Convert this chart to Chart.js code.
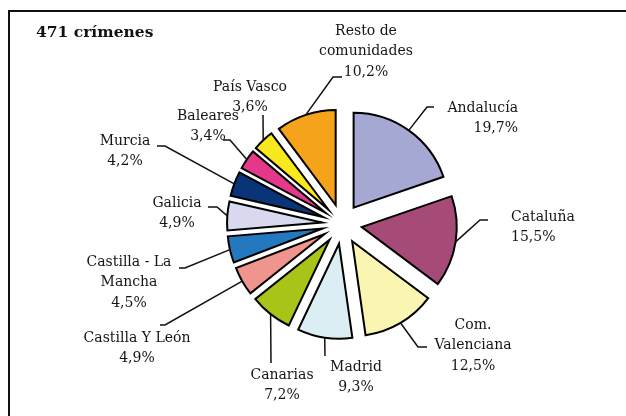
<!DOCTYPE html>
<html>
<head>
<meta charset="utf-8">
<script src="https://cdn.jsdelivr.net/npm/chart.js@4.4.1/dist/chart.umd.min.js"></script>
<style>
  html, body { margin: 0; padding: 0; background: #fff; }
  #wrap { width: 626px; height: 416px; position: relative; }
</style>
</head>
<body>
<div id="wrap"><canvas id="pie"></canvas></div>
<script>
// Data
let regions = ['Andalucía', 'Cataluña', 'Com. Valenciana', 'Madrid', 'Canarias', 'Castilla Y León',
  'Castilla - La Mancha', 'Galicia', 'Murcia', 'Baleares', 'País Vasco', 'Resto de comunidades'];
let shares = [19.7, 15.5, 12.5, 9.3, 7.2, 4.9, 4.5, 4.9, 4.2, 3.4, 3.6, 10.2];
let titleText = '471 crímenes';

// how the names wrap in the labels
let nameLines = [['Andalucía'], ['Cataluña'], ['Com.', 'Valenciana'], ['Madrid'], ['Canarias'],
  ['Castilla Y León'], ['Castilla - La', 'Mancha'], ['Galicia'], ['Murcia'], ['Baleares'],
  ['País Vasco'], ['Resto de', 'comunidades']];

let sliceColors = ['#a5a8d2', '#a64a78', '#faf5b0', '#daeef3', '#a8c418', '#f0948e',
  '#2478be', '#d8d8ee', '#0a3478', '#e4398a', '#f8e81e', '#f5a31a'];

// label placement (elbow of leader line, end of tick, text anchor)
let labelLayout = [
  { elbow: [427, 107], end: [434, 107], x: 518, y: 108, align: 'right' },
  { elbow: [480, 220], end: [488, 220], x: 511, y: 217, align: 'left' },
  { elbow: [418, 347], end: [427, 347], x: 473, y: 325, align: 'center' },
  { elbow: [325, 356], end: null, x: 356, y: 367, align: 'center' },
  { elbow: [271, 363], end: null, x: 282, y: 375, align: 'center' },
  { elbow: [165, 325], end: [160, 325], x: 137, y: 338, align: 'center' },
  { elbow: [185, 268], end: [179, 268], x: 129, y: 262, align: 'center' },
  { elbow: [217, 207], end: [208, 207], x: 177, y: 203, align: 'center' },
  { elbow: [165, 146], end: [157, 146], x: 125, y: 141, align: 'center' },
  { elbow: [230, 140], end: [223, 140], x: 208, y: 116, align: 'center' },
  { elbow: [263, 115], end: null, x: 250, y: 87, align: 'center' },
  { elbow: [333, 77], end: [342, 77], x: 366, y: 31, align: 'center' }
];

let explode = 20;
let lineGap = 20.5;
let labelFont = '14px "DejaVu Serif"';

function fmt(v) {
  return v.toFixed(1).replace('.', ',') + '%';
}

// push every slice out along its middle angle
let explodePlugin = {
  id: 'explode',
  afterDatasetsUpdate(chart) {
    chart.getDatasetMeta(0).data.forEach(function(arc) {
      let mid = (arc.startAngle + arc.endAngle) / 2;
      arc.x += Math.cos(mid) * explode;
      arc.y += Math.sin(mid) * explode;
    });
  }
};

let decorPlugin = {
  id: 'decor',
  beforeDraw(chart) {
    let ctx = chart.ctx;
    ctx.save();
    ctx.fillStyle = '#fff';
    ctx.fillRect(0, 0, chart.width, chart.height);
    ctx.strokeStyle = '#111';
    ctx.lineWidth = 2;
    ctx.strokeRect(9, 11, 700, 500);
    ctx.fillStyle = '#111';
    ctx.font = 'bold 15.5px "DejaVu Serif"';
    ctx.textBaseline = 'middle';
    ctx.textAlign = 'left';
    ctx.fillText(titleText, 36, 33);
    ctx.restore();
  },
  afterDatasetsDraw(chart) {
    let ctx = chart.ctx;
    let arcs = chart.getDatasetMeta(0).data;
    ctx.save();
    ctx.strokeStyle = '#111';
    ctx.lineWidth = 1.5;
    ctx.fillStyle = '#151515';
    ctx.font = labelFont;
    ctx.textBaseline = 'middle';
    arcs.forEach(function(arc, i) {
      let lay = labelLayout[i];
      let mid = (arc.startAngle + arc.endAngle) / 2;
      let sx = arc.x + Math.cos(mid) * arc.outerRadius;
      let sy = arc.y + Math.sin(mid) * arc.outerRadius;
      ctx.beginPath();
      ctx.moveTo(sx, sy);
      ctx.lineTo(lay.elbow[0], lay.elbow[1]);
      if (lay.end) ctx.lineTo(lay.end[0], lay.end[1]);
      ctx.stroke();

      let lines = nameLines[i].concat([fmt(shares[i])]);
      ctx.textAlign = lay.align;
      lines.forEach(function(t, k) {
        ctx.fillText(t, lay.x, lay.y + k * lineGap);
      });
    });
    ctx.restore();
  }
};

let ctx = document.getElementById('pie');

new Chart(ctx, {
  type: 'pie',
  data: {
    labels: regions,
    datasets: [{
      data: shares,
      backgroundColor: sliceColors,
      borderColor: '#000',
      borderWidth: 2,
      borderJoinStyle: 'miter'
    }]
  },
  options: {
    responsive: true,
    maintainAspectRatio: false,
    animation: false,
    radius: 95,
    layout: { padding: { left: 58, top: 32, right: 0, bottom: 0 } },
    plugins: {
      legend: { display: false },
      tooltip: { enabled: false },
      title: { display: false }
    }
  },
  plugins: [explodePlugin, decorPlugin]
});
</script>
</body>
</html>
